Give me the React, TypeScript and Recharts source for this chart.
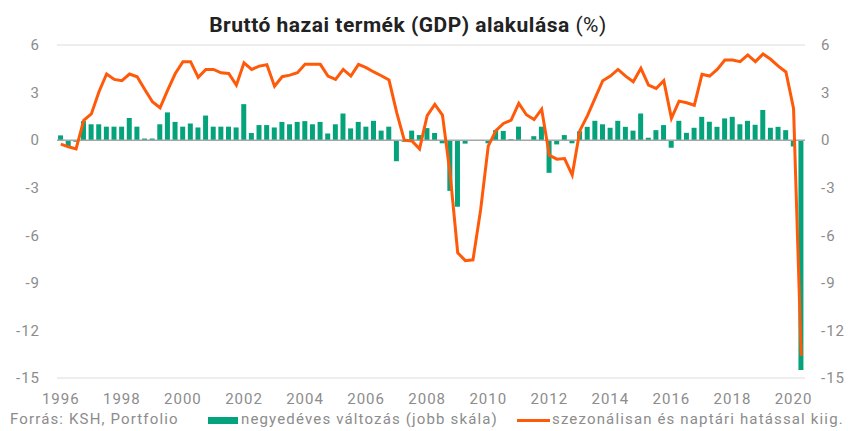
import React from "react";
import {
  ComposedChart,
  Bar,
  Line,
  XAxis,
  YAxis,
  CartesianGrid,
  ReferenceLine,
} from "recharts";

// quarters 1996 I. – 2020 II.
const years = [
  1996, 1997, 1998, 1999, 2000, 2001, 2002, 2003, 2004, 2005, 2006, 2007, 2008,
  2009, 2010, 2011, 2012, 2013, 2014, 2015, 2016, 2017, 2018, 2019, 2020,
];
const quarters = ["I.", "II.", "III.", "IV."];

// negyedéves változás (jobb skála)
const qoq = [
  0.3, -0.4, -0.1, 1.2, 1.0, 1.0, 0.85, 0.85, 0.85, 1.4, 0.85, 0.1, 0.1, 1.0,
  1.75, 1.15, 0.85, 1.05, 0.8, 1.55, 0.85, 0.85, 0.85, 0.8, 2.27, 0.45, 0.95,
  0.95, 0.8, 1.15, 1.0, 1.15, 1.2, 1.0, 1.15, 0.42, 1.0, 1.68, 0.74, 1.15, 0.85,
  1.22, 0.6, 0.85, -1.33, -0.1, 0.6, 0.32, 0.76, 0.45, -0.2, -3.2, -4.2, -0.22,
  0, 0, -0.2, 0.63, 0.58, 0.06, 0.85, 0, 0.25, 0.85, -2.06, -0.27, 0.32, -0.2,
  0.56, 0.84, 1.22, 1.0, 0.78, 1.22, 0.84, 0.6, 1.68, 0.15, 0.63, 0.95, -0.48,
  1.22, 0.46, 0.78, 1.47, 1.16, 0.84, 1.37, 1.47, 1.0, 1.22, 0.97, 1.9, 0.78,
  0.84, 0.63, -0.4, -14.5,
];

// szezonálisan és naptári hatással kiigazított
const yoy = [
  -0.25, -0.42, -0.55, 1.25, 1.65, 3.05, 4.17, 3.83, 3.75, 4.17, 4.0, 3.2, 2.42,
  2.04, 3.16, 4.2, 4.95, 4.95, 3.96, 4.46, 4.46, 4.25, 4.2, 3.47, 4.88, 4.46,
  4.67, 4.76, 3.4, 4.0, 4.1, 4.25, 4.78, 4.78, 4.78, 4.04, 3.83, 4.46, 4.04,
  4.78, 4.57, 4.3, 4.06, 3.79, 1.75, 0.0, -0.05, -0.55, 1.55, 2.25, 1.58, -2.1,
  -7.1, -7.6, -7.55, -4.4, -0.38, 0.6, 1.05, 1.26, 2.32, 1.6, 1.3, 1.95, -0.95,
  -1.2, -1.16, -2.2, 0.6, 1.55, 2.65, 3.75, 4.04, 4.46, 4.04, 3.68, 4.53, 3.47,
  3.26, 3.75, 1.37, 2.46, 2.36, 2.2, 4.15, 4.04, 4.46, 5.05, 5.05, 4.95, 5.37,
  4.95, 5.43, 5.1, 4.67, 4.3, 2.0, -13.6,
];

const yTicks = [-15, -12, -9, -6, -3, 0, 3, 6];
const yearTicks = [
  1996, 1998, 2000, 2002, 2004, 2006, 2008, 2010, 2012, 2014, 2016, 2018, 2020,
];

const categories: string[] = [];
years.forEach((y) => quarters.forEach((q) => categories.push(`${y} ${q}`)));
const data = qoq.map((v, i) => ({
  period: categories[i],
  qoq: v,
  yoy: yoy[i],
}));
const xTicks = yearTicks.map((y) => `${y} I.`);

const GREEN = "#05a37c";
const ORANGE = "#ff5a0a";
const GREY = "#8c8c8c";
const FONT = "Roboto, 'Noto Sans', sans-serif";

export default function App() {
  const tick = { fill: GREY, fontSize: 15, fontFamily: FONT, letterSpacing: 1 };
  const legendText = {
    position: "absolute" as const,
    top: 409,
    fontSize: 15,
    letterSpacing: 1.15,
    color: GREY,
    whiteSpace: "nowrap" as const,
    lineHeight: "20px",
  };
  return (
    <div
      style={{
        position: "absolute",
        left: 0,
        top: 0,
        width: 848,
        height: 431,
        background: "#fff",
        fontFamily: FONT,
        overflow: "hidden",
      }}
    >
      <div
        style={{
          position: "absolute",
          top: 11,
          left: 0,
          width: 816,
          textAlign: "center",
          fontSize: 21,
          letterSpacing: 0.5,
          lineHeight: "28px",
          fontWeight: 700,
          color: "#222",
        }}
      >
        Bruttó hazai termék (GDP) alakulása{" "}
        <span style={{ fontWeight: 400 }}>(%)</span>
      </div>
      <ComposedChart
        width={848}
        height={410}
        data={data}
        margin={{ top: 45, right: 0, bottom: 0, left: 0 }}
        barCategoryGap="14%"
      >
        <CartesianGrid vertical={false} stroke="#dcdcdc" />
        <XAxis
          dataKey="period"
          ticks={xTicks}
          interval={0}
          tickFormatter={(v: string) => v.slice(0, 4)}
          tick={tick}
          tickLine={false}
          axisLine={false}
          height={32}
          tickSize={0}
          tickMargin={15}
        />
        <YAxis
          yAxisId="left"
          orientation="left"
          domain={[-15, 6]}
          ticks={yTicks}
          tick={tick}
          tickLine={false}
          axisLine={false}
          width={57}
          tickSize={0}
          tickMargin={17}
        />
        <YAxis
          yAxisId="right"
          orientation="right"
          domain={[-15, 6]}
          ticks={yTicks}
          tick={tick}
          tickLine={false}
          axisLine={false}
          width={43}
          tickSize={0}
          tickMargin={16}
        />
        <ReferenceLine yAxisId="left" y={0} stroke="#a6a6a6" strokeWidth={1.5} />
        <Bar
          yAxisId="right"
          dataKey="qoq"
          fill={GREEN}
          isAnimationActive={false}
        />
        <Line
          yAxisId="left"
          dataKey="yoy"
          type="linear"
          stroke={ORANGE}
          strokeWidth={3}
          dot={false}
          isAnimationActive={false}
        />
      </ComposedChart>
      <div style={{ ...legendText, left: 10 }}>Forrás: KSH, Portfolio</div>
      <div
        style={{
          position: "absolute",
          left: 208,
          top: 417,
          width: 30,
          height: 7,
          background: GREEN,
        }}
      />
      <div style={{ ...legendText, left: 241 }}>
        negyedéves változás (jobb skála)
      </div>
      <div
        style={{
          position: "absolute",
          left: 517,
          top: 419,
          width: 33,
          height: 3,
          background: ORANGE,
        }}
      />
      <div style={{ ...legendText, left: 552 }}>
        szezonálisan és naptári hatással kiig.
      </div>
    </div>
  );
}
